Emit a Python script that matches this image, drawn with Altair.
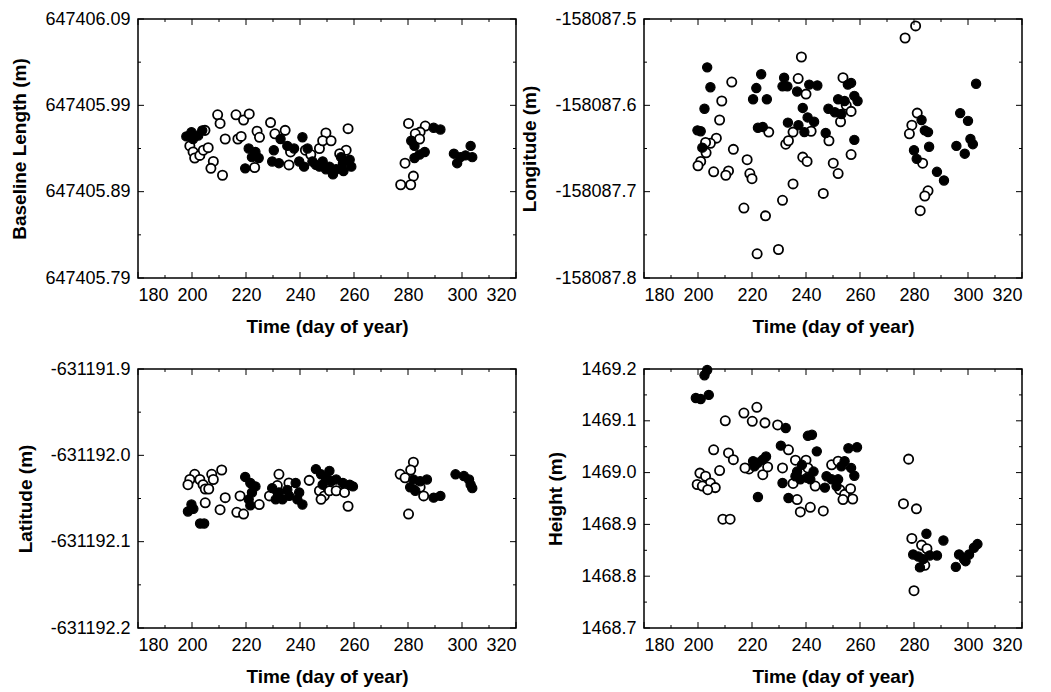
import altair as alt
import pandas as pd

# ---------------- data (day of year, value) ----------------
# Panel 1: Baseline length (m)
bl_filled_day = [197.9, 199.8, 202.3, 203.8, 200.4, 221.0, 223.5, 222.2, 224.7, 219.7,
                 230.3, 229.7, 232.2, 232.8, 235.3, 237.8, 240.9, 242.8, 239.7, 241.5,
                 244.6, 247.2, 245.9, 248.4, 250.9, 253.4, 255.9, 258.4, 259.0, 252.2,
                 249.6, 256.1, 255.2, 281.2, 282.4, 282.4, 284.3, 286.2, 289.5, 292.0,
                 297.0, 299.4, 298.2, 303.2, 303.8, 301.3]
bl_filled_val = [647405.954, 647405.959, 647405.955, 647405.961, 647405.951, 647405.940, 647405.936, 647405.930, 647405.929, 647405.917,
                 647405.938, 647405.925, 647405.923, 647405.951, 647405.943, 647405.940, 647405.953, 647405.940, 647405.925, 647405.919,
                 647405.925, 647405.919, 647405.921, 647405.925, 647405.919, 647405.916, 647405.923, 647405.927, 647405.919, 647405.910,
                 647405.916, 647405.914, 647405.930, 647405.949, 647405.943, 647405.929, 647405.933, 647405.936, 647405.964, 647405.962,
                 647405.934, 647405.930, 647405.923, 647405.943, 647405.930, 647405.932]
bl_open_day = [204.8, 199.2, 200.4, 201.0, 202.9, 204.2, 206.0, 207.9, 207.0, 211.3,
               209.5, 210.4, 212.3, 216.3, 219.1, 221.2, 217.0, 218.2, 224.1, 225.0,
               229.1, 223.2, 230.7, 234.5, 235.9, 247.2, 249.6, 248.4, 251.5, 257.8,
               257.1, 254.7, 236.5, 242.0, 244.0, 280.2, 286.4, 284.5, 282.7, 284.3,
               278.9, 282.0, 281.0, 277.3]
bl_open_val = [647405.961, 647405.943, 647405.936, 647405.929, 647405.932, 647405.938, 647405.941, 647405.925, 647405.917, 647405.909,
               647405.979, 647405.969, 647405.951, 647405.979, 647405.973, 647405.980, 647405.951, 647405.954, 647405.960, 647405.953,
               647405.970, 647405.918, 647405.957, 647405.961, 647405.921, 647405.940, 647405.958, 647405.949, 647405.949, 647405.963,
               647405.938, 647405.934, 647405.936, 647405.938, 647405.933, 647405.969, 647405.966, 647405.959, 647405.957, 647405.951,
               647405.923, 647405.908, 647405.898, 647405.898]

# Panel 2: Longitude (m)
lo_filled_day = [203.4, 204.6, 202.4, 199.8, 201.0, 201.6, 223.4, 221.6, 220.4, 225.5,
                 222.2, 224.0, 231.9, 231.3, 233.1, 236.7, 238.8, 233.3, 237.2, 239.4,
                 240.6, 243.0, 241.2, 244.2, 247.3, 248.3, 250.7, 253.1, 251.9, 254.3,
                 255.5, 256.7, 257.9, 259.1, 257.9, 303.0, 282.8, 284.0, 285.2, 280.0,
                 281.0, 285.6, 288.5, 291.1, 297.1, 300.0, 295.7, 298.8, 300.9, 301.8]
lo_filled_val = [-158087.556, -158087.579, -158087.604, -158087.629, -158087.630, -158087.649, -158087.564, -158087.580, -158087.593, -158087.593,
                 -158087.626, -158087.625, -158087.568, -158087.578, -158087.578, -158087.584, -158087.603, -158087.620, -158087.623, -158087.631,
                 -158087.614, -158087.619, -158087.576, -158087.577, -158087.632, -158087.604, -158087.608, -158087.610, -158087.593, -158087.595,
                 -158087.576, -158087.574, -158087.589, -158087.595, -158087.640, -158087.575, -158087.617, -158087.629, -158087.631, -158087.652,
                 -158087.662, -158087.648, -158087.677, -158087.687, -158087.609, -158087.618, -158087.647, -158087.656, -158087.639, -158087.645]
lo_open_day = [238.3, 212.5, 237.1, 240.0, 253.7, 208.8, 208.0, 206.8, 204.6, 202.8,
               203.0, 201.0, 200.0, 205.8, 211.3, 210.3, 213.1, 218.2, 219.2, 220.0,
               217.0, 225.0, 231.3, 235.2, 221.9, 229.8, 226.2, 232.5, 233.5, 235.2,
               241.9, 238.8, 240.4, 248.5, 250.1, 251.9, 246.4, 252.8, 254.9, 256.7,
               256.7, 280.6, 276.7, 281.2, 279.2, 278.3, 283.2, 285.2, 284.0, 282.3]
lo_open_val = [-158087.544, -158087.573, -158087.569, -158087.587, -158087.568, -158087.595, -158087.617, -158087.638, -158087.644, -158087.643,
               -158087.655, -158087.665, -158087.670, -158087.677, -158087.676, -158087.681, -158087.651, -158087.663, -158087.679, -158087.685,
               -158087.719, -158087.728, -158087.710, -158087.691, -158087.772, -158087.767, -158087.631, -158087.645, -158087.641, -158087.631,
               -158087.630, -158087.660, -158087.665, -158087.641, -158087.667, -158087.679, -158087.702, -158087.619, -158087.600, -158087.657,
               -158087.607, -158087.508, -158087.522, -158087.609, -158087.623, -158087.633, -158087.667, -158087.699, -158087.705, -158087.722]

# Panel 3: Latitude (m)
la_open_day = [201.0, 199.2, 198.5, 202.9, 204.1, 207.3, 207.9, 211.0, 204.9, 206.2,
               204.9, 210.4, 216.6, 219.1, 212.3, 217.8, 224.9, 228.7, 232.2, 231.6,
               235.9, 243.4, 247.2, 249.0, 247.8, 250.9, 253.4, 256.5, 257.8, 282.0,
               281.0, 277.1, 278.9, 284.5, 285.8, 280.2]
la_open_val = [-631192.022, -631192.028, -631192.034, -631192.028, -631192.034, -631192.022, -631192.028, -631192.017, -631192.039, -631192.039,
               -631192.055, -631192.063, -631192.066, -631192.068, -631192.049, -631192.047, -631192.057, -631192.047, -631192.022, -631192.035,
               -631192.032, -631192.029, -631192.041, -631192.047, -631192.051, -631192.041, -631192.041, -631192.043, -631192.059, -631192.008,
               -631192.017, -631192.022, -631192.026, -631192.037, -631192.047, -631192.068]
la_filled_day = [199.8, 198.5, 200.5, 203.0, 204.5, 219.7, 221.6, 223.5, 222.2, 221.0,
                 221.6, 229.7, 232.2, 233.5, 236.0, 238.4, 239.7, 240.9, 239.0, 235.3,
                 231.0, 245.9, 247.8, 249.6, 251.5, 253.4, 255.9, 258.4, 259.6, 248.4,
                 250.9, 282.0, 284.5, 287.0, 280.8, 282.7, 289.5, 292.0, 297.6, 300.7,
                 302.6, 303.2, 303.8]
la_filled_val = [-631192.057, -631192.065, -631192.062, -631192.079, -631192.079, -631192.025, -631192.032, -631192.036, -631192.043, -631192.051,
                 -631192.058, -631192.038, -631192.043, -631192.051, -631192.047, -631192.032, -631192.043, -631192.057, -631192.051, -631192.040,
                 -631192.051, -631192.016, -631192.022, -631192.026, -631192.030, -631192.028, -631192.032, -631192.034, -631192.036, -631192.034,
                 -631192.018, -631192.028, -631192.030, -631192.028, -631192.037, -631192.041, -631192.049, -631192.047, -631192.022, -631192.024,
                 -631192.028, -631192.034, -631192.038]

# Panel 4: Height (m)
he_filled_day = [203.4, 202.4, 199.2, 201.0, 204.0, 232.5, 240.7, 242.2, 230.7, 244.0,
                 255.7, 258.9, 220.4, 222.2, 224.0, 225.2, 220.9, 231.3, 236.7, 238.5,
                 236.1, 237.9, 240.4, 242.8, 241.6, 247.6, 249.5, 251.9, 247.0, 251.3,
                 253.1, 254.3, 256.7, 257.9, 222.2, 233.5, 284.6, 290.9, 279.7, 281.6,
                 283.4, 285.8, 288.5, 282.2, 296.7, 298.5, 300.4, 302.2, 295.5, 299.1,
                 303.5]
he_filled_val = [1469.198, 1469.188, 1469.144, 1469.142, 1469.150, 1469.086, 1469.071, 1469.073, 1469.052, 1469.041,
                 1469.047, 1469.049, 1469.022, 1469.019, 1469.025, 1469.031, 1469.012, 1468.980, 1469.002, 1469.015,
                 1468.993, 1468.987, 1468.990, 1469.002, 1468.987, 1468.993, 1468.987, 1468.987, 1468.971, 1468.974,
                 1469.012, 1469.022, 1469.009, 1468.994, 1468.953, 1468.951, 1468.882, 1468.869, 1468.842, 1468.838,
                 1468.833, 1468.840, 1468.840, 1468.817, 1468.842, 1468.833, 1468.842, 1468.855, 1468.818, 1468.829,
                 1468.862]
he_open_day = [221.8, 217.0, 220.1, 210.1, 224.8, 229.5, 205.8, 211.3, 213.1, 208.0,
               200.7, 202.8, 204.6, 206.4, 199.7, 201.6, 203.6, 218.9, 217.4, 224.0,
               225.8, 231.3, 233.5, 236.1, 240.0, 240.7, 235.2, 243.4, 249.5, 251.9,
               252.5, 254.3, 253.7, 236.7, 237.9, 241.6, 246.4, 209.2, 211.9, 256.5,
               257.3, 278.0, 276.1, 280.9, 279.2, 282.8, 284.8, 284.0, 280.0]
he_open_val = [1469.126, 1469.115, 1469.099, 1469.100, 1469.096, 1469.092, 1469.044, 1469.038, 1469.025, 1469.004,
               1468.999, 1468.993, 1468.980, 1468.971, 1468.977, 1468.974, 1468.967, 1469.007, 1469.009, 1468.996,
               1469.011, 1469.009, 1469.044, 1469.024, 1469.024, 1469.009, 1468.979, 1468.974, 1469.015, 1469.022,
               1468.967, 1468.958, 1468.948, 1468.948, 1468.924, 1468.933, 1468.926, 1468.910, 1468.910, 1468.969,
               1468.949, 1469.026, 1468.940, 1468.930, 1468.873, 1468.860, 1468.853, 1468.821, 1468.772]

# axis tick values
x_labels = [180, 200, 220, 240, 260, 280, 300, 320]
x_minor = [190, 210, 230, 250, 270, 290, 310]
bl_ticks = [647405.79, 647405.89, 647405.99, 647406.09]
bl_minor = [647405.84, 647405.94, 647406.04]
lo_ticks = [-158087.8, -158087.7, -158087.6, -158087.5]
lo_minor = [-158087.75, -158087.65, -158087.55]
la_ticks = [-631192.2, -631192.1, -631192.0, -631191.9]
la_minor = [-631192.15, -631192.05, -631191.95]
he_ticks = [1468.7, 1468.8, 1468.9, 1469.0, 1469.1, 1469.2]
he_minor = [1468.75, 1468.85, 1468.95, 1469.05, 1469.15]

W, H = 378, 259
FONT = "Liberation Sans"


def panel(fd, fv, od, ov, yticks, yminor, ytitle, fmt):
    xs = alt.Scale(domain=[180, 320], nice=False, zero=False)
    ys = alt.Scale(domain=[min(yticks), max(yticks)], nice=False, zero=False)
    xaxis = alt.Axis(title="Time (day of year)", values=x_labels, format="d",
                     ticks=False, domain=False, grid=False, labelPadding=8,
                     titlePadding=13)
    yaxis = alt.Axis(title=ytitle, values=yticks, ticks=False, domain=False, grid=False,
                     labelPadding=8, titlePadding=15,
                     labelExpr=f"replace(format(datum.value, '{fmt}'), '\u2212', '-')")
    X = alt.X("day:Q", scale=xs, axis=xaxis)
    Y = alt.Y("value:Q", scale=ys, axis=yaxis)
    df_o = pd.DataFrame({"day": od, "value": ov})
    df_f = pd.DataFrame({"day": fd, "value": fv})
    open_layer = alt.Chart(df_o).mark_point(
        shape="circle", filled=True, fill="white", stroke="black",
        strokeWidth=1.8, size=85, opacity=1).encode(x=X, y=Y)
    fill_layer = alt.Chart(df_f).mark_point(
        shape="circle", filled=True, fill="black", stroke="black",
        strokeWidth=1.2, size=85, opacity=1).encode(x=X, y=Y)

    def xt(vals, length, top):
        d = pd.DataFrame({"day": vals})
        y0 = 0 if top else H
        y1 = length if top else H - length
        return alt.Chart(d).mark_rule(color="black", strokeWidth=1).encode(
            x=X, y=alt.value(y0), y2=alt.value(y1))

    def yt(vals, length, right):
        d = pd.DataFrame({"value": vals})
        x0 = W if right else 0
        x1 = W - length if right else length
        return alt.Chart(d).mark_rule(color="black", strokeWidth=1).encode(
            y=Y, x=alt.value(x0), x2=alt.value(x1))

    layers = [open_layer, fill_layer,
              xt(x_labels, 6, False), xt(x_minor, 3, False),
              xt(x_labels, 6, True), xt(x_minor, 3, True),
              yt(yticks, 6, False), yt(yminor, 3, False),
              yt(yticks, 6, True), yt(yminor, 3, True)]
    return alt.layer(*layers).properties(width=W, height=H)


p1 = panel(bl_filled_day, bl_filled_val, bl_open_day, bl_open_val, bl_ticks, bl_minor,
           "Baseline Length (m)", ".2f")
p2 = panel(lo_filled_day, lo_filled_val, lo_open_day, lo_open_val, lo_ticks, lo_minor,
           "Longitude (m)", ".1f")
p3 = panel(la_filled_day, la_filled_val, la_open_day, la_open_val, la_ticks, la_minor,
           "Latitude (m)", ".1f")
p4 = panel(he_filled_day, he_filled_val, he_open_day, he_open_val, he_ticks, he_minor,
           "Height (m)", ".1f")

chart = alt.concat(p1, p2, p3, p4, columns=2, spacing={"row": 22, "column": 2}).properties(
    padding={"left": 10, "top": 9, "right": 0, "bottom": 0},
    background="white"
).configure_view(
    stroke="black", strokeWidth=1.5
).configure_axis(
    labelFont=FONT, labelFontSize=18, labelColor="black",
    titleFont=FONT, titleFontSize=19, titleFontWeight="bold", titleColor="black"
)

chart.save("out.html", embed_options={"renderer": "svg", "actions": False})
